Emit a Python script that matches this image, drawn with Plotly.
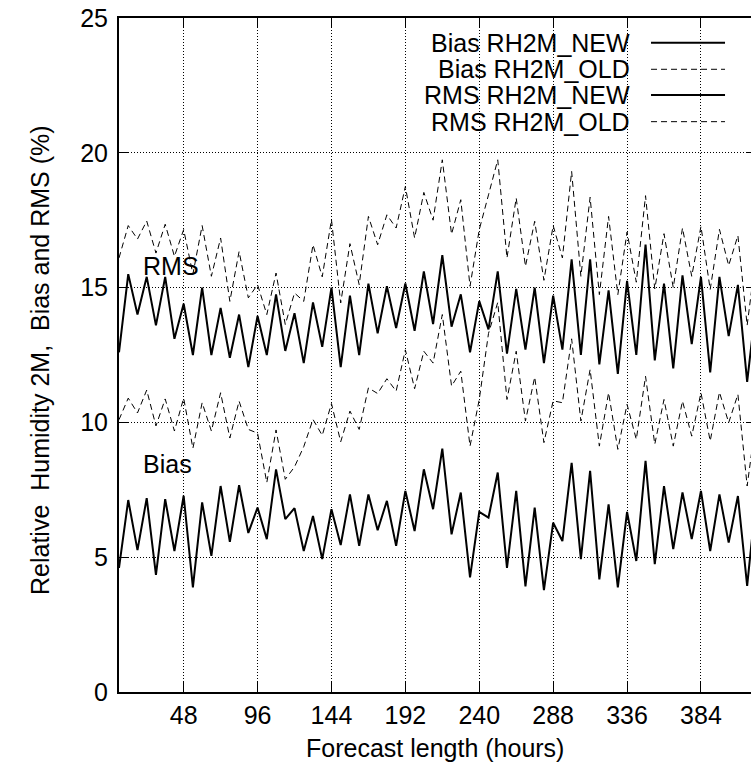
import plotly.graph_objects as go

hours = [6, 12, 18, 24, 30, 36, 42, 48, 54, 60, 66, 72, 78, 84, 90, 96, 102, 108, 114, 120,
         126, 132, 138, 144, 150, 156, 162, 168, 174, 180, 186, 192, 198, 204, 210, 216, 222, 228,
         234, 240, 246, 252, 258, 264, 270, 276, 282, 288, 294, 300, 306, 312, 318, 324, 330, 336,
         342, 348, 354, 360, 366, 372, 378, 384, 390, 396, 402, 408, 414, 420]

bias_new = [4.6, 7.12, 5.26, 7.19, 4.34, 7.15, 5.23, 7.28, 3.88, 7.03, 5.05, 7.64, 5.57, 7.67,
            5.9, 6.84, 5.67, 8.26, 6.41, 6.82, 5.23, 6.53, 4.93, 6.78, 5.45, 7.33, 5.42, 7.33,
            6.0, 7.09, 5.42, 7.46, 5.97, 8.26, 6.78, 9.03, 5.85, 7.4, 4.25, 6.68, 6.47, 8.14,
            4.6, 7.46, 3.92, 6.84, 3.78, 6.28, 5.6, 8.5, 4.93, 8.2, 4.18, 6.96, 3.88, 6.68,
            4.86, 8.57, 4.74, 7.64, 5.3, 7.4, 5.67, 7.46, 5.23, 7.33, 5.54, 7.27, 3.94, 7.3]

bias_old = [10.1, 10.9, 10.35, 11.2, 9.87, 10.87, 9.68, 10.9, 9.04, 10.73, 9.68, 11.1, 9.42,
            10.79, 9.74, 9.6, 7.77, 9.72, 7.89, 8.35, 9.1, 10.11, 9.52, 10.7, 9.28, 10.42, 9.74,
            11.28, 11.07, 11.62, 11.16, 12.69, 11.25, 12.64, 12.2, 14.0, 11.35, 11.9, 9.12,
            10.85, 13.3, 14.45, 10.85, 12.64, 10.05, 11.68, 9.25, 10.8, 10.73, 13.1, 10.05,
            11.96, 9.12, 11.1, 9.0, 10.67, 9.37, 11.71, 9.19, 10.85, 9.12, 10.79, 9.49, 11.1,
            9.31, 11.12, 9.99, 11.04, 7.64, 10.2]

rms_new = [12.6, 15.5, 14.0, 15.4, 13.6, 15.4, 13.1, 14.4, 12.5, 15.0, 12.5, 14.25, 12.4, 14.0,
           12.05, 13.95, 12.5, 14.75, 12.65, 14.05, 12.2, 14.45, 12.8, 15.0, 12.05, 14.7, 12.5,
           15.15, 13.3, 15.05, 13.5, 15.15, 13.4, 15.6, 13.65, 16.2, 13.55, 14.75, 12.6, 14.5,
           13.45, 15.6, 12.55, 14.95, 12.7, 15.0, 12.2, 14.7, 12.7, 16.05, 12.5, 16.05, 12.15,
           14.9, 11.8, 15.25, 12.5, 16.6, 12.3, 15.15, 12.0, 15.45, 12.9, 15.4, 11.85, 15.4,
           13.2, 15.1, 11.5, 14.5]

rms_old = [16.1, 17.3, 16.8, 17.47, 16.28, 17.35, 16.16, 17.15, 15.5, 17.3, 15.42, 16.84, 14.49,
           16.34, 14.62, 15.11, 14.0, 15.54, 13.63, 14.8, 14.49, 16.59, 15.4, 17.52, 14.43, 16.63,
           15.11, 17.64, 16.59, 17.7, 17.21, 18.75, 16.84, 18.53, 17.5, 19.74, 16.98, 18.26,
           15.05, 17.15, 18.44, 19.74, 16.1, 18.32, 15.79, 17.46, 15.27, 17.3, 16.1, 19.31,
           15.42, 18.35, 14.74, 17.64, 14.74, 17.06, 15.2, 18.41, 14.95, 17.0, 15.0, 17.21,
           15.42, 17.27, 14.93, 17.16, 15.82, 16.93, 13.6, 16.3]

series_names = ["Bias RH2M_NEW", "Bias RH2M_OLD", "RMS RH2M_NEW", "RMS RH2M_OLD"]
series_values = [bias_new, bias_old, rms_new, rms_old]

x_ticks = [48, 96, 144, 192, 240, 288, 336, 384]
y_ticks = [0, 5, 10, 15, 20, 25]

FONT = "Liberation Sans, Arial, Helvetica, sans-serif"
FS = 25
solid = dict(color="black", width=2, dash="solid")
dashed = dict(color="black", width=1, dash="6px,4px")
styles = [solid, dashed, solid, dashed]

fig = go.Figure()
for name, vals, st in zip(series_names, series_values, styles):
    fig.add_trace(go.Scatter(x=hours, y=vals, mode="lines", name=name,
                             line=st, showlegend=False, hoverinfo="skip"))
# dummy trace so that the right-hand tick axis is drawn
fig.add_trace(go.Scatter(x=[None], y=[None], yaxis="y2", showlegend=False, hoverinfo="skip"))

grid = dict(showgrid=True, gridcolor="black", gridwidth=1, griddash="1px,2px")

fig.update_layout(
    width=751, height=778,
    margin=dict(l=119, r=0, t=18, b=86),
    paper_bgcolor="white", plot_bgcolor="white",
    font=dict(family=FONT, size=FS, color="black"),
    xaxis=dict(range=[6, 416.5], tickvals=x_ticks, ticktext=[str(v) for v in x_ticks],
               ticks="inside", ticklen=10, tickwidth=1, tickcolor="black",
               showline=True, linewidth=2, linecolor="black", mirror="ticks",
               zeroline=False, tickfont=dict(size=FS), ticklabelstandoff=0,
               automargin=False, **grid),
    yaxis=dict(range=[0, 25], tickvals=y_ticks, ticktext=[str(v) for v in y_ticks],
               ticks="inside", ticklen=10, tickwidth=1, tickcolor="black",
               showline=True, linewidth=2, linecolor="black", mirror=False,
               zeroline=False, tickfont=dict(size=FS), ticklabelstandoff=4,
               automargin=False, **grid),
    yaxis2=dict(overlaying="y", side="right", anchor="x", range=[0, 25],
                tickvals=y_ticks[1:-1], ticks="inside", ticklen=5, tickwidth=1,
                tickcolor="black", showticklabels=False, showgrid=False,
                showline=False, zeroline=False, automargin=False),
)

ann = []
# axis titles
ann.append(dict(text="Forecast length (hours)", xref="paper", yref="paper",
                x=0.5, y=-0.083, xanchor="center", yanchor="middle",
                showarrow=False, font=dict(size=FS)))
ann.append(dict(text="Relative\u00a0 Humidity 2M,\u00a0 Bias and RMS (%)", xref="paper",
                yref="paper", x=-0.125, y=0.4926, xanchor="center", yanchor="middle",
                textangle=-90, showarrow=False, font=dict(size=FS)))
# in-plot labels
ann.append(dict(text="RMS", xref="x", yref="y", x=20.5, y=15.8, xanchor="left",
                yanchor="middle", showarrow=False, font=dict(size=FS)))
ann.append(dict(text="Bias", xref="x", yref="y", x=20.5, y=8.45, xanchor="left",
                yanchor="middle", showarrow=False, font=dict(size=FS)))

# custom legend: text right-aligned, sample line to its right
leg_y = [0.9634, 0.9239, 0.8858, 0.8462]
shapes = []
for name, st, yy in zip(series_names, styles, leg_y):
    ann.append(dict(text=name, xref="paper", yref="paper", x=0.8112, y=yy,
                    xanchor="right", yanchor="middle", showarrow=False,
                    font=dict(size=FS)))
    shapes.append(dict(type="line", xref="paper", yref="paper", x0=0.8418, x1=0.9589,
                       y0=yy, y1=yy, line=st))

fig.update_layout(annotations=ann, shapes=shapes)

# remove the default 8px page margin so the figure fills the 751x778 window exactly
page_fix = "document.body.style.margin='0';document.body.style.overflow='hidden';"
fig.write_html("out.html", post_script=page_fix, config={"displayModeBar": False})
